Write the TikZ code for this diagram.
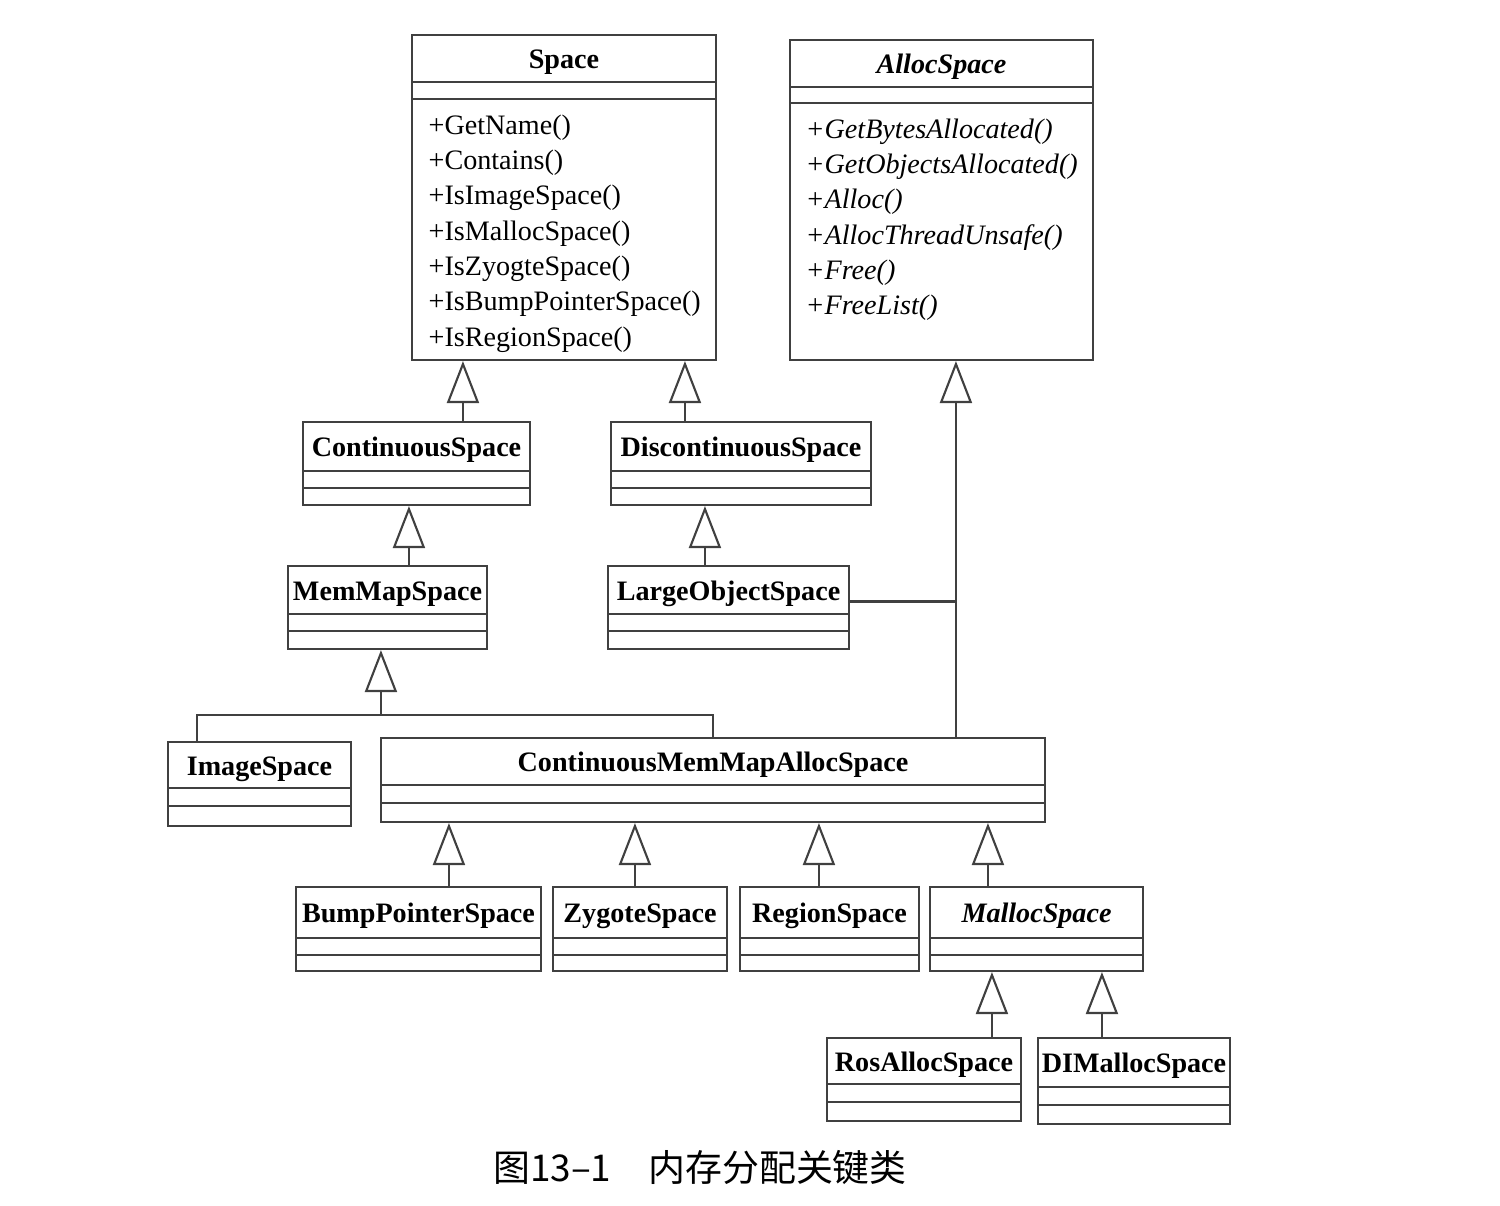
\documentclass[tikz,border=0pt]{standalone}
\usepackage{fontspec}
\setmainfont{Liberation Serif}
\newfontfamily\cjk{Noto Sans CJK SC}
\usetikzlibrary{arrows.meta, calc, fit}

\tikzset{
  box/.style={draw=black!75, line width=0.6pt, inner sep=0pt},
  link/.style={draw=black!75, line width=0.6pt},
  cname/.style={font=\fontsize{8}{10}\selectfont\bfseries, anchor=base, inner sep=0pt},
  meth/.style={font=\fontsize{8}{10}\selectfont, anchor=base west, inner sep=0pt},
  inh/.style={link, -{Triangle[open, length=4.2mm, width=3.2mm, fill=white]}},
}

% name, x1, y1, x2, y2, first line, second line, title
\newcommand{\umlclass}[8]{%
  \node[box, fit={(#2,#3) (#4,#5)}] (#1) {};
  \draw[link] (#2,#6) -- (#4,#6) (#2,#7) -- (#4,#7);
  \node[cname] (#1-name) at ({(#2+#4)/2},{(#3+#6)/2+10}) {#8};
}

\begin{document}
\begin{tikzpicture}[x=0.01cm, y=-0.01cm]
  \useasboundingbox (0,0) rectangle (1500,1205);

  % classes
  \umlclass{space}{412}{35}{716}{360}{82}{99}{Space}
  \umlclass{alloc}{790}{40}{1093}{360}{87}{103}{\itshape AllocSpace}
  \umlclass{contsp}{303}{422}{530}{505}{471}{488}{ContinuousSpace}
  \umlclass{discsp}{611}{422}{871}{505}{471}{488}{DiscontinuousSpace}
  \umlclass{memmap}{288}{566}{487}{649}{614}{631}{MemMapSpace}
  \umlclass{largeobj}{608}{566}{849}{649}{614}{631}{LargeObjectSpace}
  \umlclass{image}{168}{742}{351}{826}{788}{806}{ImageSpace}
  \umlclass{cmmas}{381}{738}{1045}{822}{785}{803}{ContinuousMemMapAllocSpace}
  \umlclass{bump}{296}{887}{541}{971}{938}{955}{BumpPointerSpace}
  \umlclass{zygote}{553}{887}{727}{971}{938}{955}{ZygoteSpace}
  \umlclass{region}{740}{887}{919}{971}{938}{955}{RegionSpace}
  \umlclass{malloc}{930}{887}{1143}{971}{938}{955}{\itshape MallocSpace}
  \umlclass{ros}{827}{1038}{1021}{1121}{1084}{1102}{RosAllocSpace}
  \umlclass{dl}{1038}{1038}{1230}{1124}{1087}{1105}{DIMallocSpace}

  % operations
  \foreach \m [count=\i] in {GetName(), Contains(), IsImageSpace(), IsMallocSpace(),
      IsZyogteSpace(), IsBumpPointerSpace(), IsRegionSpace()}
    \node[meth] (space-m\i) at ($(space.north west)+(17,65+35.3*\i)$) {+\m};
  \foreach \m [count=\i] in {GetBytesAllocated(), GetObjectsAllocated(), Alloc(),
      AllocThreadUnsafe(), Free(), FreeList()}
    \node[meth, font=\fontsize{8}{10}\selectfont\itshape] (alloc-m\i) at ($(alloc.north west)+(16,64+35.3*\i)$) {+\m};

  % generalisations
  \draw[inh] ($(contsp.north west)+(161,0)$) coordinate (c-cs) -- (c-cs |- space.south);
  \draw[inh] ($(discsp.north west)+(75,0)$) coordinate (c-ds) -- (c-ds |- space.south);
  \draw[inh] ($(memmap.north west)+(122,0)$) coordinate (c-mm) -- (c-mm |- contsp.south);
  \draw[inh] ($(largeobj.north west)+(98,0)$) coordinate (c-lo) -- (c-lo |- discsp.south);
  \draw[inh] ($(cmmas.north west)+(576,0)$) coordinate (c-al) -- (c-al |- alloc.south);
  \draw[link] ($(largeobj.east)+(0,-6)$) coordinate (c-le) -- (c-le -| c-al);

  \coordinate (j-mm) at ($(memmap.south west)+(94,65)$);
  \draw[inh] (j-mm) -- (j-mm |- memmap.south);
  \draw[link] ($(image.north west)+(30,0)$) |- (j-mm) -| ($(cmmas.north west)+(333,0)$);

  \foreach \c/\dx in {bump/154, zygote/83, region/80, malloc/59}
    \draw[inh] ($(\c.north west)+(\dx,0)$) coordinate (c-\c) -- (c-\c |- cmmas.south);
  \foreach \c/\dx in {ros/166, dl/65}
    \draw[inh] ($(\c.north west)+(\dx,0)$) coordinate (c-\c) -- (c-\c |- malloc.south);

  % caption
  \node[font=\cjk\fontsize{10.5}{12}\selectfont, inner sep=0pt] (caption) at (700,1167) {图13–1\quad 内存分配关键类};
\end{tikzpicture}
\end{document}
